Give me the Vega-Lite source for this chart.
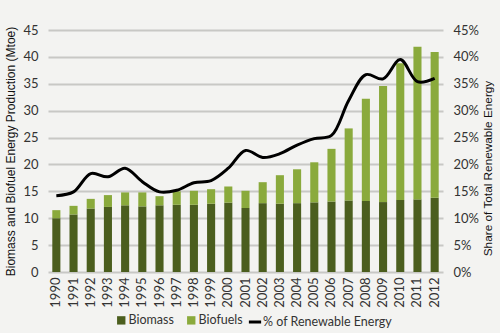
{
  "$schema": "https://vega.github.io/schema/vega-lite/v6.json",
  "width": 395,
  "height": 242,
  "autosize": {"type": "none"},
  "padding": {"left": 48, "top": 30, "right": 57, "bottom": 61},
  "background": "#f3f3f1",
  "config": {
    "font": "Lato",
    "view": {"stroke": null},
    "axis": {"labelFontSize": 13, "labelColor": "#333333", "titleFont": "Liberation Sans", "titleFontSize": 12, "titleFontWeight": "normal", "titleColor": "#111111", "domain": false, "ticks": false},
    "legend": {"labelFontSize": 12.5, "labelColor": "#333333"}
  },
  "datasets": {
    "prod": [
      {"year": "1990", "type": "Biomass", "value": 10.0}, {"year": "1990", "type": "Biofuels", "value": 1.5},
      {"year": "1991", "type": "Biomass", "value": 10.7}, {"year": "1991", "type": "Biofuels", "value": 1.6},
      {"year": "1992", "type": "Biomass", "value": 11.8}, {"year": "1992", "type": "Biofuels", "value": 1.8},
      {"year": "1993", "type": "Biomass", "value": 12.1}, {"year": "1993", "type": "Biofuels", "value": 2.2},
      {"year": "1994", "type": "Biomass", "value": 12.4}, {"year": "1994", "type": "Biofuels", "value": 2.4},
      {"year": "1995", "type": "Biomass", "value": 12.2}, {"year": "1995", "type": "Biofuels", "value": 2.6},
      {"year": "1996", "type": "Biomass", "value": 12.4}, {"year": "1996", "type": "Biofuels", "value": 1.7},
      {"year": "1997", "type": "Biomass", "value": 12.5}, {"year": "1997", "type": "Biofuels", "value": 2.5},
      {"year": "1998", "type": "Biomass", "value": 12.5}, {"year": "1998", "type": "Biofuels", "value": 2.6},
      {"year": "1999", "type": "Biomass", "value": 12.7}, {"year": "1999", "type": "Biofuels", "value": 2.7},
      {"year": "2000", "type": "Biomass", "value": 12.9}, {"year": "2000", "type": "Biofuels", "value": 3.0},
      {"year": "2001", "type": "Biomass", "value": 11.9}, {"year": "2001", "type": "Biofuels", "value": 3.2},
      {"year": "2002", "type": "Biomass", "value": 12.8}, {"year": "2002", "type": "Biofuels", "value": 3.9},
      {"year": "2003", "type": "Biomass", "value": 12.7}, {"year": "2003", "type": "Biofuels", "value": 5.3},
      {"year": "2004", "type": "Biomass", "value": 12.8}, {"year": "2004", "type": "Biofuels", "value": 6.3},
      {"year": "2005", "type": "Biomass", "value": 12.95}, {"year": "2005", "type": "Biofuels", "value": 7.45},
      {"year": "2006", "type": "Biomass", "value": 13.1}, {"year": "2006", "type": "Biofuels", "value": 9.8},
      {"year": "2007", "type": "Biomass", "value": 13.3}, {"year": "2007", "type": "Biofuels", "value": 13.4},
      {"year": "2008", "type": "Biomass", "value": 13.2}, {"year": "2008", "type": "Biofuels", "value": 19.0},
      {"year": "2009", "type": "Biomass", "value": 13.0}, {"year": "2009", "type": "Biofuels", "value": 21.6},
      {"year": "2010", "type": "Biomass", "value": 13.4}, {"year": "2010", "type": "Biofuels", "value": 25.4},
      {"year": "2011", "type": "Biomass", "value": 13.5}, {"year": "2011", "type": "Biofuels", "value": 28.4},
      {"year": "2012", "type": "Biomass", "value": 13.8}, {"year": "2012", "type": "Biofuels", "value": 27.1}
    ],
    "share": [
      {"year": "1990", "series": "% of Renewable Energy", "share": 0.142},
      {"year": "1991", "series": "% of Renewable Energy", "share": 0.149},
      {"year": "1992", "series": "% of Renewable Energy", "share": 0.183},
      {"year": "1993", "series": "% of Renewable Energy", "share": 0.177},
      {"year": "1994", "series": "% of Renewable Energy", "share": 0.193},
      {"year": "1995", "series": "% of Renewable Energy", "share": 0.168},
      {"year": "1996", "series": "% of Renewable Energy", "share": 0.149},
      {"year": "1997", "series": "% of Renewable Energy", "share": 0.152},
      {"year": "1998", "series": "% of Renewable Energy", "share": 0.166},
      {"year": "1999", "series": "% of Renewable Energy", "share": 0.170},
      {"year": "2000", "series": "% of Renewable Energy", "share": 0.193},
      {"year": "2001", "series": "% of Renewable Energy", "share": 0.226},
      {"year": "2002", "series": "% of Renewable Energy", "share": 0.213},
      {"year": "2003", "series": "% of Renewable Energy", "share": 0.220},
      {"year": "2004", "series": "% of Renewable Energy", "share": 0.236},
      {"year": "2005", "series": "% of Renewable Energy", "share": 0.248},
      {"year": "2006", "series": "% of Renewable Energy", "share": 0.254},
      {"year": "2007", "series": "% of Renewable Energy", "share": 0.319},
      {"year": "2008", "series": "% of Renewable Energy", "share": 0.367},
      {"year": "2009", "series": "% of Renewable Energy", "share": 0.359},
      {"year": "2010", "series": "% of Renewable Energy", "share": 0.395},
      {"year": "2011", "series": "% of Renewable Energy", "share": 0.354},
      {"year": "2012", "series": "% of Renewable Energy", "share": 0.360}
    ]
  },
  "encoding": {
    "x": {
      "field": "year", "type": "ordinal",
      "scale": {"paddingInner": 0.53, "paddingOuter": 0.25},
      "axis": {"title": null, "labelAngle": -90, "labelPadding": 5, "labelFontSize": 13}
    }
  },
  "layer": [
    {
      "data": {"name": "prod"},
      "mark": {"type": "bar"},
      "encoding": {
        "y": {
          "field": "value", "type": "quantitative", "stack": "zero",
          "scale": {"domain": [0, 45]},
          "axis": {"title": "Biomass and Biofuel Energy Production (Mtoe)", "values": [0,5,10,15,20,25,30,35,40,45], "grid": true, "gridColor": "#c8c8c5", "gridWidth": 2, "labelPadding": 10, "titlePadding": 5}
        },
        "color": {
          "field": "type", "type": "nominal",
          "scale": {"domain": ["Biomass", "Biofuels"], "range": ["#4b5e1e", "#8aaa3c"]},
          "legend": {"title": null, "orient": "none", "legendX": 67, "legendY": 284, "direction": "horizontal", "symbolType": "square", "symbolSize": 70, "symbolStrokeWidth": 0, "columnPadding": 11, "labelOffset": 1}
        },
        "order": {"field": "type", "sort": "descending"}
      }
    },
    {
      "data": {"name": "share"},
      "mark": {"type": "line", "interpolate": "catmull-rom", "strokeWidth": 3},
      "encoding": {
        "y": {
          "field": "share", "type": "quantitative",
          "scale": {"domain": [0, 0.45]},
          "axis": {"orient": "right", "title": "Share of Total Renewable Energy", "titleFontSize": 11.8, "titleAngle": 270, "titleX": 44, "titleY": 138, "titleAlign": "center", "titleBaseline": "middle", "format": ".0%", "values": [0,0.05,0.1,0.15,0.2,0.25,0.3,0.35,0.4,0.45], "grid": false, "labelPadding": 10}
        },
        "stroke": {
          "field": "series", "type": "nominal",
          "scale": {"domain": ["% of Renewable Energy"], "range": ["#000000"]},
          "legend": {"title": null, "orient": "none", "legendX": 199, "legendY": 284, "symbolType": "stroke", "symbolStrokeWidth": 3, "symbolSize": 150, "labelOffset": 0}
        }
      }
    }
  ],
  "resolve": {"scale": {"y": "independent"}}
}
